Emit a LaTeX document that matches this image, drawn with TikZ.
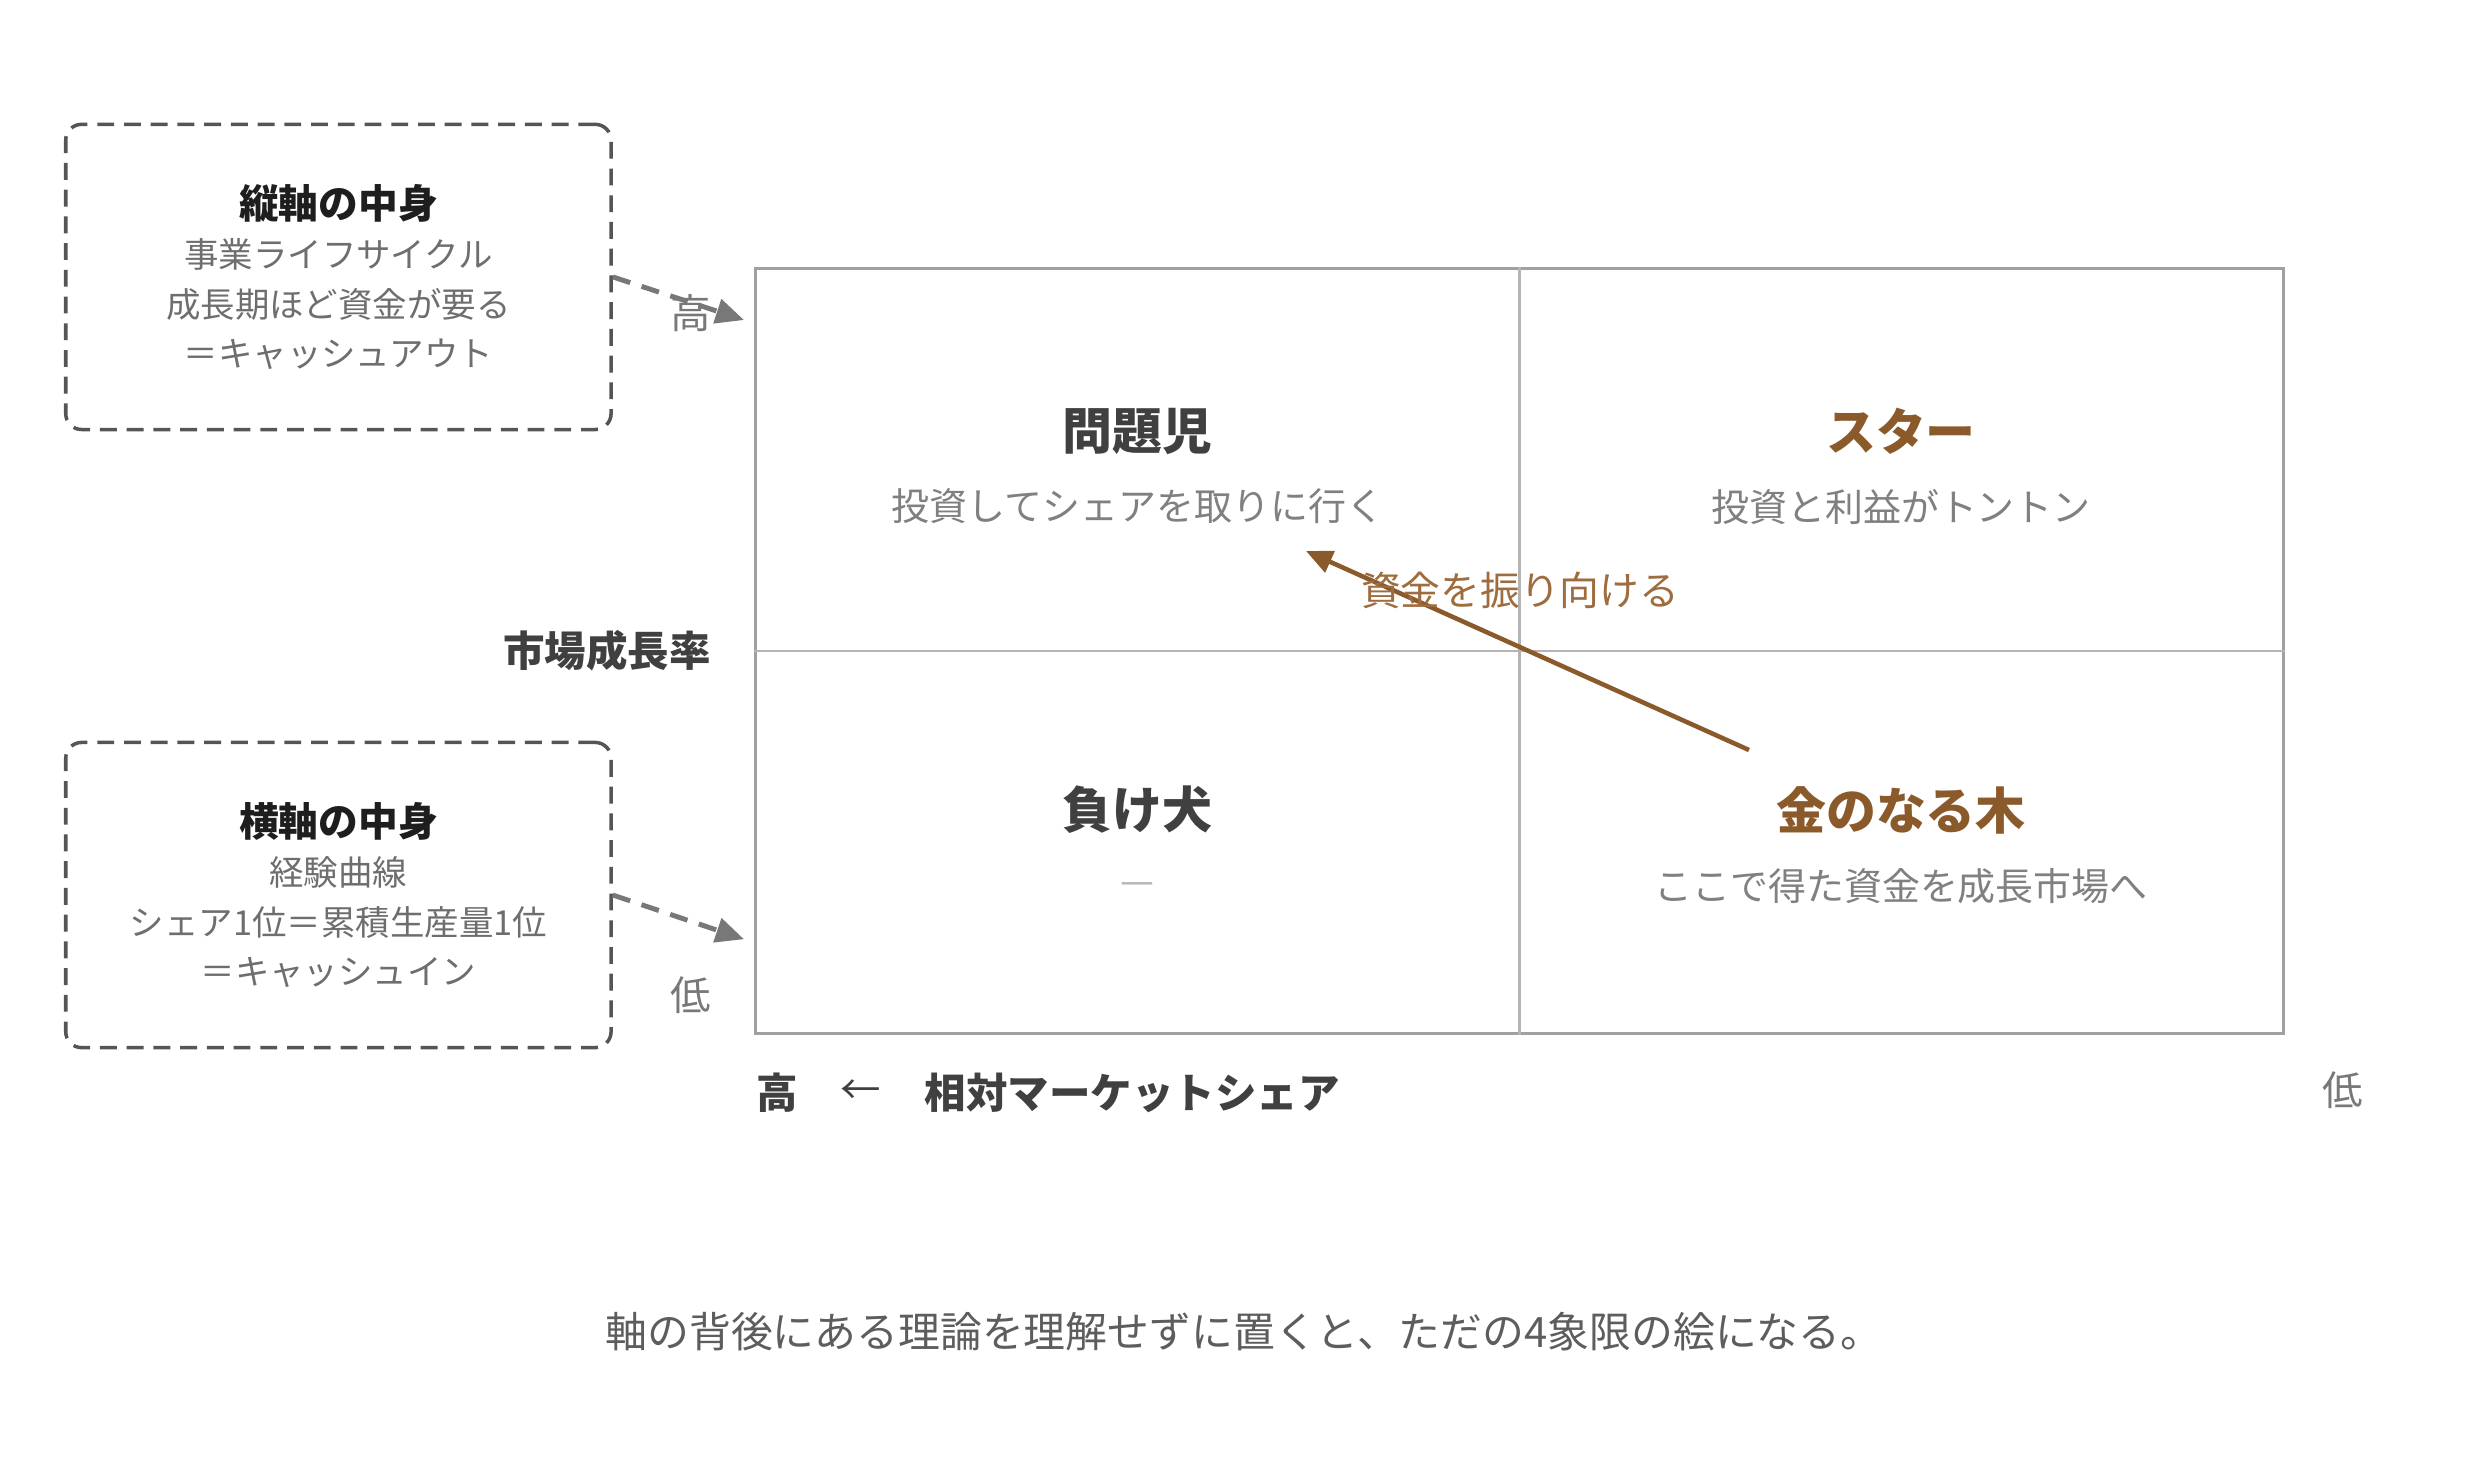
\documentclass[tikz,border=0pt]{standalone}
\usepackage{fontspec}
\setmainfont{Noto Sans CJK JP}
\usetikzlibrary{arrows.meta}

\definecolor{treebrown}{RGB}{139,90,43}
\definecolor{fundbrown}{RGB}{158,108,62}
\definecolor{titlegray}{RGB}{64,64,64}
\definecolor{subgray}{RGB}{128,128,128}
\definecolor{boxtitle}{RGB}{30,30,30}
\definecolor{boxbody}{RGB}{110,110,110}
\definecolor{boxline}{RGB}{85,85,85}
\definecolor{notegray}{RGB}{120,120,120}
\definecolor{gridgray}{RGB}{160,160,160}
\definecolor{splitgray}{RGB}{180,180,180}

\begin{document}
\begin{tikzpicture}[x=0.01cm,y=-0.01cm]
\tikzset{every node/.style={inner sep=0pt},
    quadtitle/.style={font=\bfseries\fontsize{14.2}{17}\selectfont,text=titlegray},
    quadsub/.style={font=\fontsize{10.8}{13}\selectfont,text=subgray},
    notebox/.style={draw=boxline,line width=1pt,dash pattern=on 4.8pt off 2.8pt,
        rounded corners=4.5pt,minimum width=5.45cm,minimum height=3.05cm,
        align=center,text=boxbody,font=\fontsize{9.8}{14}\selectfont},
    notearrow/.style={draw=notegray,line width=1.4pt,dash pattern=on 5.2pt off 3.4pt,
        -{Triangle[length=8pt,width=7pt]}},
    fundarrow/.style={draw=treebrown,line width=1.3pt,-{Triangle[length=7.5pt,width=6.5pt]}},
    axisname/.style={font=\bfseries\fontsize{11.8}{14}\selectfont,text=titlegray},
    axisside/.style={font=\fontsize{11.5}{14}\selectfont,text=notegray}}

\useasboundingbox (0,0) rectangle (2488,1456);

% the four quadrants
\node[draw=gridgray,line width=0.85pt,minimum width=15.27cm,minimum height=7.645cm] (grid) at (1519.5,651.2) {};
\draw[splitgray,line width=0.6pt] (grid.north) -- (grid.south);
\draw[splitgray,line width=0.6pt] (grid.west) -- (grid.east);

\node[quadtitle] (qmark) at (1137.8,431) {問題児};
\node[quadsub] (qmarksub) at (1137.8,506.5) {投資してシェアを取りに行く};
\node[quadtitle,text=treebrown] (star) at (1901,431) {スター};
\node[quadsub] (starsub) at (1901,506.5) {投資と利益がトントン};
\node[quadtitle] (dog) at (1137.8,810) {負け犬};
\node[quadsub,text=splitgray] (dogsub) at (1137.8,889) {—};
\node[quadtitle,text=treebrown] (cow) at (1901,810) {金のなる木};
\node[quadsub] (cowsub) at (1901,886) {ここで得た資金を成長市場へ};

% cash flow
\coordinate (fundfrom) at (1749,750);
\coordinate (fundto) at (1306,551);
\draw[fundarrow] (fundfrom) -- (fundto);
\node[font=\fontsize{11.3}{14}\selectfont,text=fundbrown] (fund) at (1520,590.5) {資金を振り向ける};

% axes
\node[axisside] (yhigh) at (691,313.4) {高};
\node[axisside] (ylow) at (691,995) {低};
\node[axisname,anchor=east] (yname) at (711.6,651) {市場成長率};
\node[axisname] (xhigh) at (777.5,1092.4) {高};
\node[font=\fontsize{11.5}{14}\selectfont,text=titlegray] (xarrow) at (861,1092.4) {←};
\node[axisname,anchor=west] (xname) at (924.2,1092.4) {相対マーケットシェア};
\node[axisside] (xlow) at (2343,1090) {低};

% notes on the axes
\node[notebox] (vbox) at (338.4,276.9) {{\bfseries\color{boxtitle}\fontsize{11.3}{14}\selectfont 縦軸の中身}\\
    事業ライフサイクル\\ 成長期ほど資金が要る\\ ＝キャッシュアウト};
\node[notebox] (hbox) at (338.4,895) {{\bfseries\color{boxtitle}\fontsize{11.3}{14}\selectfont 横軸の中身}\\
    経験曲線\\ シェア1位＝累積生産量1位\\ ＝キャッシュイン};
\coordinate (vtip) at (744,320);
\coordinate (htip) at (744,939.2);
\draw[notearrow] (vbox.east) -- (vtip);
\draw[notearrow] (hbox.east) -- (htip);

\node[font=\fontsize{11.9}{14}\selectfont,text=titlegray!85] (note) at (1244,1332)
    {軸の背後にある理論を理解せずに置くと、ただの4象限の絵になる。};

\end{tikzpicture}
\end{document}
